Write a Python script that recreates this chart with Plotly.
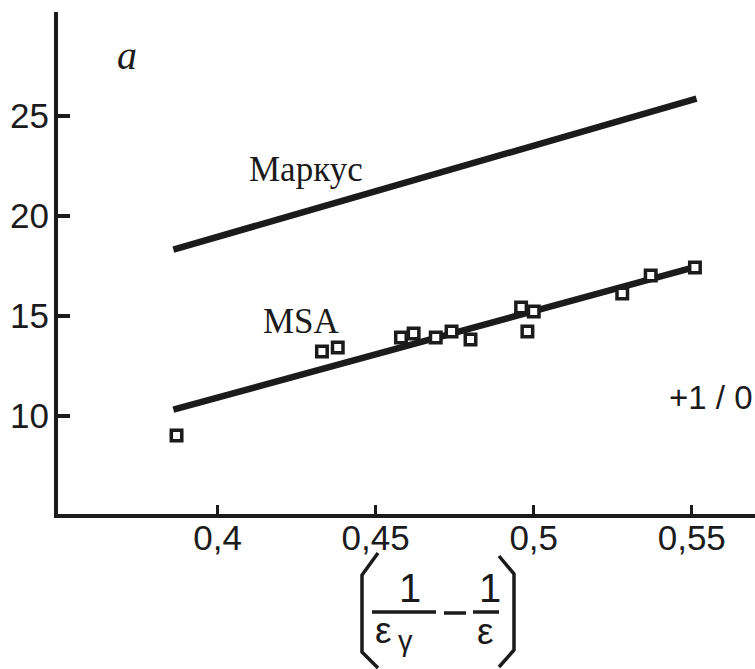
import plotly.graph_objects as go

# ---------------- data ----------------
exp_x = [0.387, 0.433, 0.438, 0.458, 0.462, 0.469, 0.474, 0.480,
         0.496, 0.498, 0.500, 0.528, 0.537, 0.551]
exp_y = [9.0, 13.2, 13.4, 13.9, 14.1, 13.9, 14.2, 13.8,
         15.4, 14.2, 15.2, 16.1, 17.0, 17.4]

marcus_x = [0.386, 0.5515]
marcus_y = [18.3, 25.85]

msa_x = [0.386, 0.5515]
msa_y = [10.3, 17.45]

x_tickvals = [0.40, 0.45, 0.50, 0.55]
x_ticktext = ["0,4", "0,45", "0,5", "0,55"]
y_tickvals = [10, 15, 20, 25]
y_ticktext = ["10", "15", "20", "25"]

label_marcus = "Маркус"
label_msa = "MSA"
label_panel = "a"
label_corner = "+1 / 0"

# ---------------- layout geometry ----------------
W, H = 755, 669
L, R, T, B = 58, 0, 12, 155
PW, PH = W - L - R, H - T - B
INK = "#1b1b1b"
SANS = "Liberation Sans"


def px(x):
    return (x - L) / PW


def py(y):
    return 1 - (y - T) / PH


fig = go.Figure()

fig.add_trace(go.Scatter(x=marcus_x, y=marcus_y, mode="lines",
                         line=dict(color=INK, width=6.5), showlegend=False))
fig.add_trace(go.Scatter(x=msa_x, y=msa_y, mode="lines",
                         line=dict(color=INK, width=6.5), showlegend=False))
fig.add_trace(go.Scatter(x=exp_x, y=exp_y, mode="markers",
                         marker=dict(symbol="square", size=10.5, color="white",
                                     line=dict(color=INK, width=3.5)),
                         showlegend=False))

annotations = []


def txt(text, x, y, size, family=SANS, italic=False):
    annotations.append(dict(
        text=text, x=px(x), y=py(y), xref="paper", yref="paper",
        showarrow=False, xanchor="center", yanchor="middle",
        font=dict(size=size, family=family, color=INK,
                  style="italic" if italic else "normal")))


txt(label_panel, 127, 55, 40, "Liberation Serif", italic=True)
txt(label_marcus, 306, 170, 35, "Liberation Serif")
txt(label_msa, 301, 321, 35, "Liberation Serif")
txt(label_corner, 710, 397, 33)

# x-axis title: (1/ε_γ − 1/ε)
txt("1", 410, 588, 40)
txt("1", 490, 588, 40)
txt("ε", 383, 630, 37)
txt("γ", 405, 641, 29)
txt("ε", 486, 631, 37)

shapes = []


def seg(x0, y0, x1, y1, w=3.5):
    shapes.append(dict(type="line", xref="paper", yref="paper",
                       x0=px(x0), y0=py(y0), x1=px(x1), y1=py(y1),
                       line=dict(color=INK, width=w)))


def path(points, w=3.5):
    d = "M " + " L ".join(f"{px(a):.5f},{py(b):.5f}" for a, b in points)
    shapes.append(dict(type="path", xref="paper", yref="paper", path=d,
                       line=dict(color=INK, width=w)))


seg(372, 612, 436, 612)
seg(444, 613, 466, 613)
seg(473, 612, 499, 612)
path([(378, 553), (362, 575), (362, 652), (378, 668)])
path([(499, 556), (514, 574), (514, 650), (499, 667)])

fig.update_layout(
    width=W, height=H,
    margin=dict(l=L, r=R, t=T, b=B, pad=0),
    paper_bgcolor="white", plot_bgcolor="white",
    annotations=annotations, shapes=shapes,
    xaxis=dict(range=[0.3495, 0.5700], tickvals=x_tickvals, ticktext=x_ticktext,
               showgrid=False, zeroline=False, showline=True, linecolor=INK,
               linewidth=4, ticks="inside", ticklen=9, tickwidth=3,
               tickcolor=INK, ticklabelstandoff=-10,
               tickfont=dict(size=35, family=SANS, color=INK)),
    yaxis=dict(range=[5.08, 30.18], tickvals=y_tickvals, ticktext=y_ticktext,
               showgrid=False, zeroline=False, showline=True, linecolor=INK,
               linewidth=4, ticks="inside", ticklen=12, tickwidth=3.5,
               tickcolor=INK, ticklabelstandoff=-2,
               tickfont=dict(size=35, family=SANS, color=INK)),
)

fig.write_html("out.html")
